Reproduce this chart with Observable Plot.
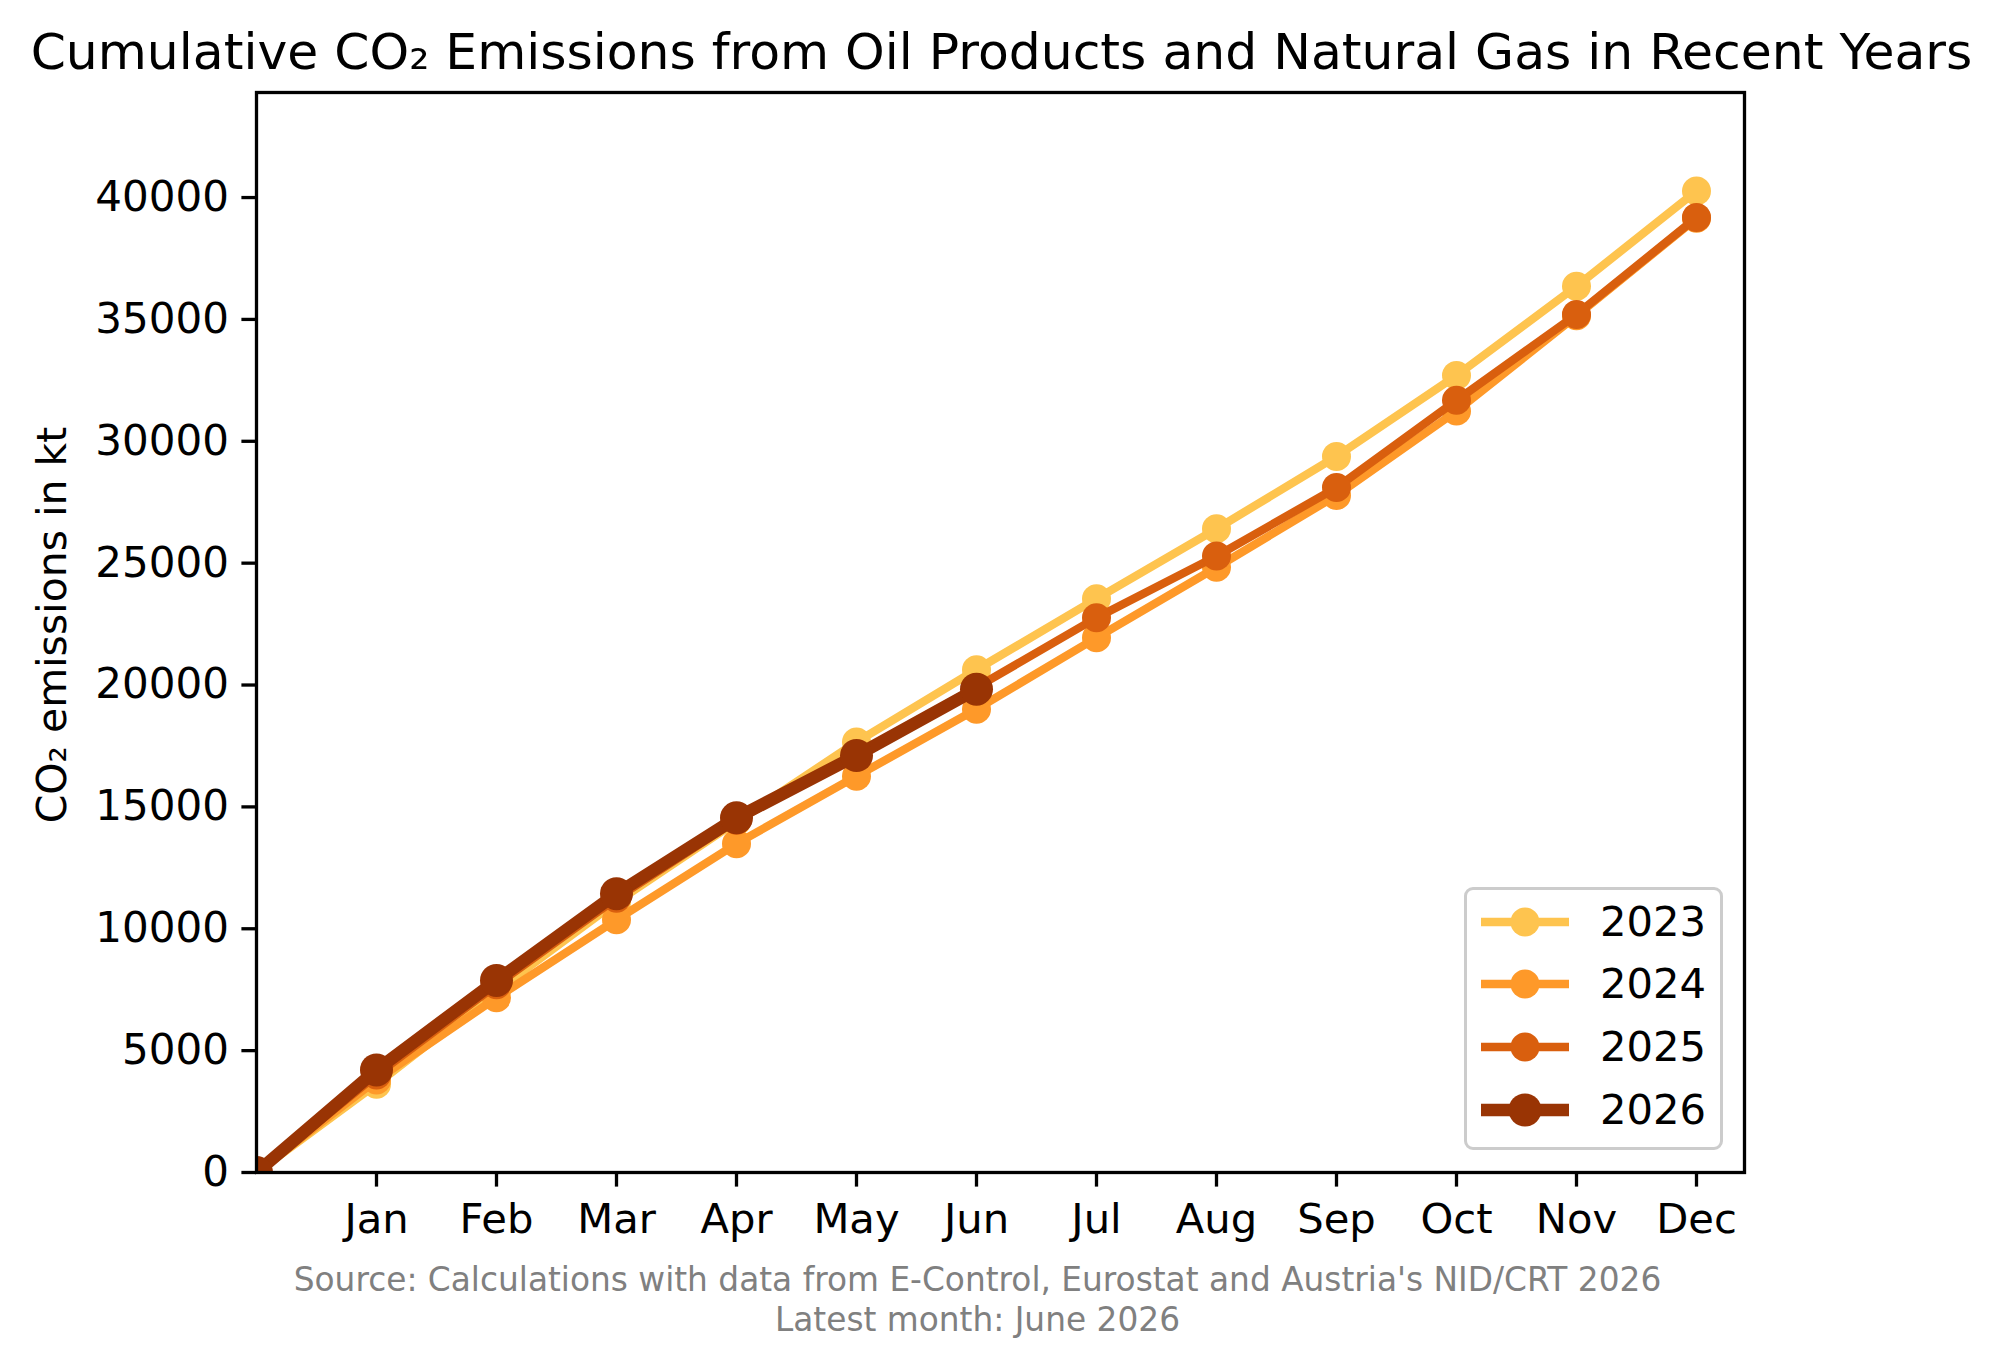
<!DOCTYPE html>
<html>
<head>
<meta charset="utf-8">
<script src="https://cdn.jsdelivr.net/npm/d3@7"></script>
<script src="https://cdn.jsdelivr.net/npm/@observablehq/plot@0.6"></script>
<style>
  body { margin: 0; background: #fff; font-family: "DejaVu Sans", sans-serif; }
  #wrap { position: relative; width: 2000px; height: 1372px; overflow: hidden; background: #fff; }
  #title { position: absolute; left: 0; top: 22px; width: 2003px; text-align: center; font-size: 50.4px; line-height: 60px; color: #000; white-space: nowrap; }
  #chart { position: absolute; left: 0; top: 72px; }
  #ylabel { position: absolute; left: 52px; top: 625px; transform: translate(-50%, -50%) rotate(-90deg); font-size: 41px; line-height: 50px; white-space: nowrap; color: #000; }
  #footer { position: absolute; left: 0; top: 1260px; width: 1955px; text-align: center; font-size: 32.8px; line-height: 40px; color: #808080; white-space: nowrap; }
  #legend { position: absolute; left: 1464px; top: 887px; width: 253px; height: 257px; border: 3.3px solid #cccccc; border-radius: 9px; background: rgba(255,255,255,0.8); box-sizing: content-box; }
  .row { position: absolute; left: 0; height: 50px; display: flex; align-items: center; }
  .row svg { margin-left: 12px; }
  .row span { position: absolute; left: 133px; font-size: 41.7px; line-height: 50px; color: #000; }
</style>
</head>
<body>
<div id="wrap">
  <div id="title">Cumulative CO₂ Emissions from Oil Products and Natural Gas in Recent Years</div>
  <div id="chart"></div>
  <div id="ylabel">CO₂ emissions in kt</div>
  <div id="legend"></div>
  <div id="footer">Source: Calculations with data from E-Control, Eurostat and Austria's NID/CRT 2026<br>Latest month: June 2026</div>
</div>
<script>
// ---- data ----
const monthLabels = ["Jan", "Feb", "Mar", "Apr", "May", "Jun", "Jul", "Aug", "Sep", "Oct", "Nov", "Dec"];
const monthIndex = [0, 1, 2, 3, 4, 5, 6, 7, 8, 9, 10, 11, 12];
const years = ["2023", "2024", "2025", "2026"];
const values2023 = [0, 3620, 7450, 11100, 14400, 17660, 20630, 23540, 26410, 29380, 32700, 36360, 40270];
const values2024 = [0, 3800, 7170, 10370, 13490, 16260, 19010, 21940, 24830, 27780, 31240, 35150, 39150];
const values2025 = [0, 4000, 7700, 11250, 14450, 17150, 19900, 22760, 25290, 28100, 31680, 35200, 39180];
const values2026 = [0, 4210, 7880, 11440, 14550, 17110, 19830];
const yTicks = [0, 5000, 10000, 15000, 20000, 25000, 30000, 35000, 40000];

// ---- styles ----
const colors = ["#FEC44F", "#FE9929", "#D95F0E", "#993404"];
const lineWidths = [8.3, 8.3, 8.3, 12.5];
const radii = [14.5, 14.5, 14.5, 16.5];

const seriesValues = [values2023, values2024, values2025, values2026];
const series = years.map((y, i) =>
  seriesValues[i].map((v, j) => ({year: y, m: monthIndex[j], v}))
);

const marks = [];
series.forEach((rows, i) => {
  marks.push(Plot.line(rows, {x: "m", y: "v", stroke: colors[i], strokeWidth: lineWidths[i], clip: true}));
  marks.push(Plot.dot(rows, {x: "m", y: "v", r: radii[i], fill: colors[i], stroke: "none", clip: true}));
});

const chart = Plot.plot({
  width: 2000,
  height: 1180,
  marginLeft: 256,
  marginRight: 256,
  marginTop: 20,
  marginBottom: 80,
  style: {fontFamily: "DejaVu Sans, sans-serif", fontSize: "41.7px", color: "#000", background: "transparent", overflow: "visible"},
  x: {type: "linear", domain: [0, 12.4]},
  y: {type: "linear", domain: [0, 44310]},
  marks: [
    ...marks,
    Plot.axisX({ticks: monthIndex.slice(1), tickFormat: d => monthLabels[d - 1], tickSize: 14.6, tickPadding: 16, strokeWidth: 3.3, fontSize: 41.7, label: null}),
    Plot.axisY({ticks: yTicks, tickFormat: d3.format("d"), tickSize: 14.6, tickPadding: 13, strokeWidth: 3.3, fontSize: 42, label: null}),
    Plot.frame({stroke: "#000", strokeWidth: 3.3})
  ]
});
document.getElementById("chart").appendChild(chart);

// ---- legend ----
const legend = document.getElementById("legend");
const rowCenters = [32, 94, 157, 220];
years.forEach((y, i) => {
  const row = document.createElement("div");
  row.className = "row";
  row.style.top = (rowCenters[i] - 25) + "px";
  const lw = lineWidths[i];
  row.innerHTML = `<svg width="92" height="40" viewBox="0 0 92 40">
      <line x1="2" y1="20" x2="90" y2="20" stroke="${colors[i]}" stroke-width="${lw}" />
      <circle cx="46" cy="20" r="${radii[i]}" fill="${colors[i]}" />
    </svg><span>${y}</span>`;
  legend.appendChild(row);
});
</script>
</body>
</html>
